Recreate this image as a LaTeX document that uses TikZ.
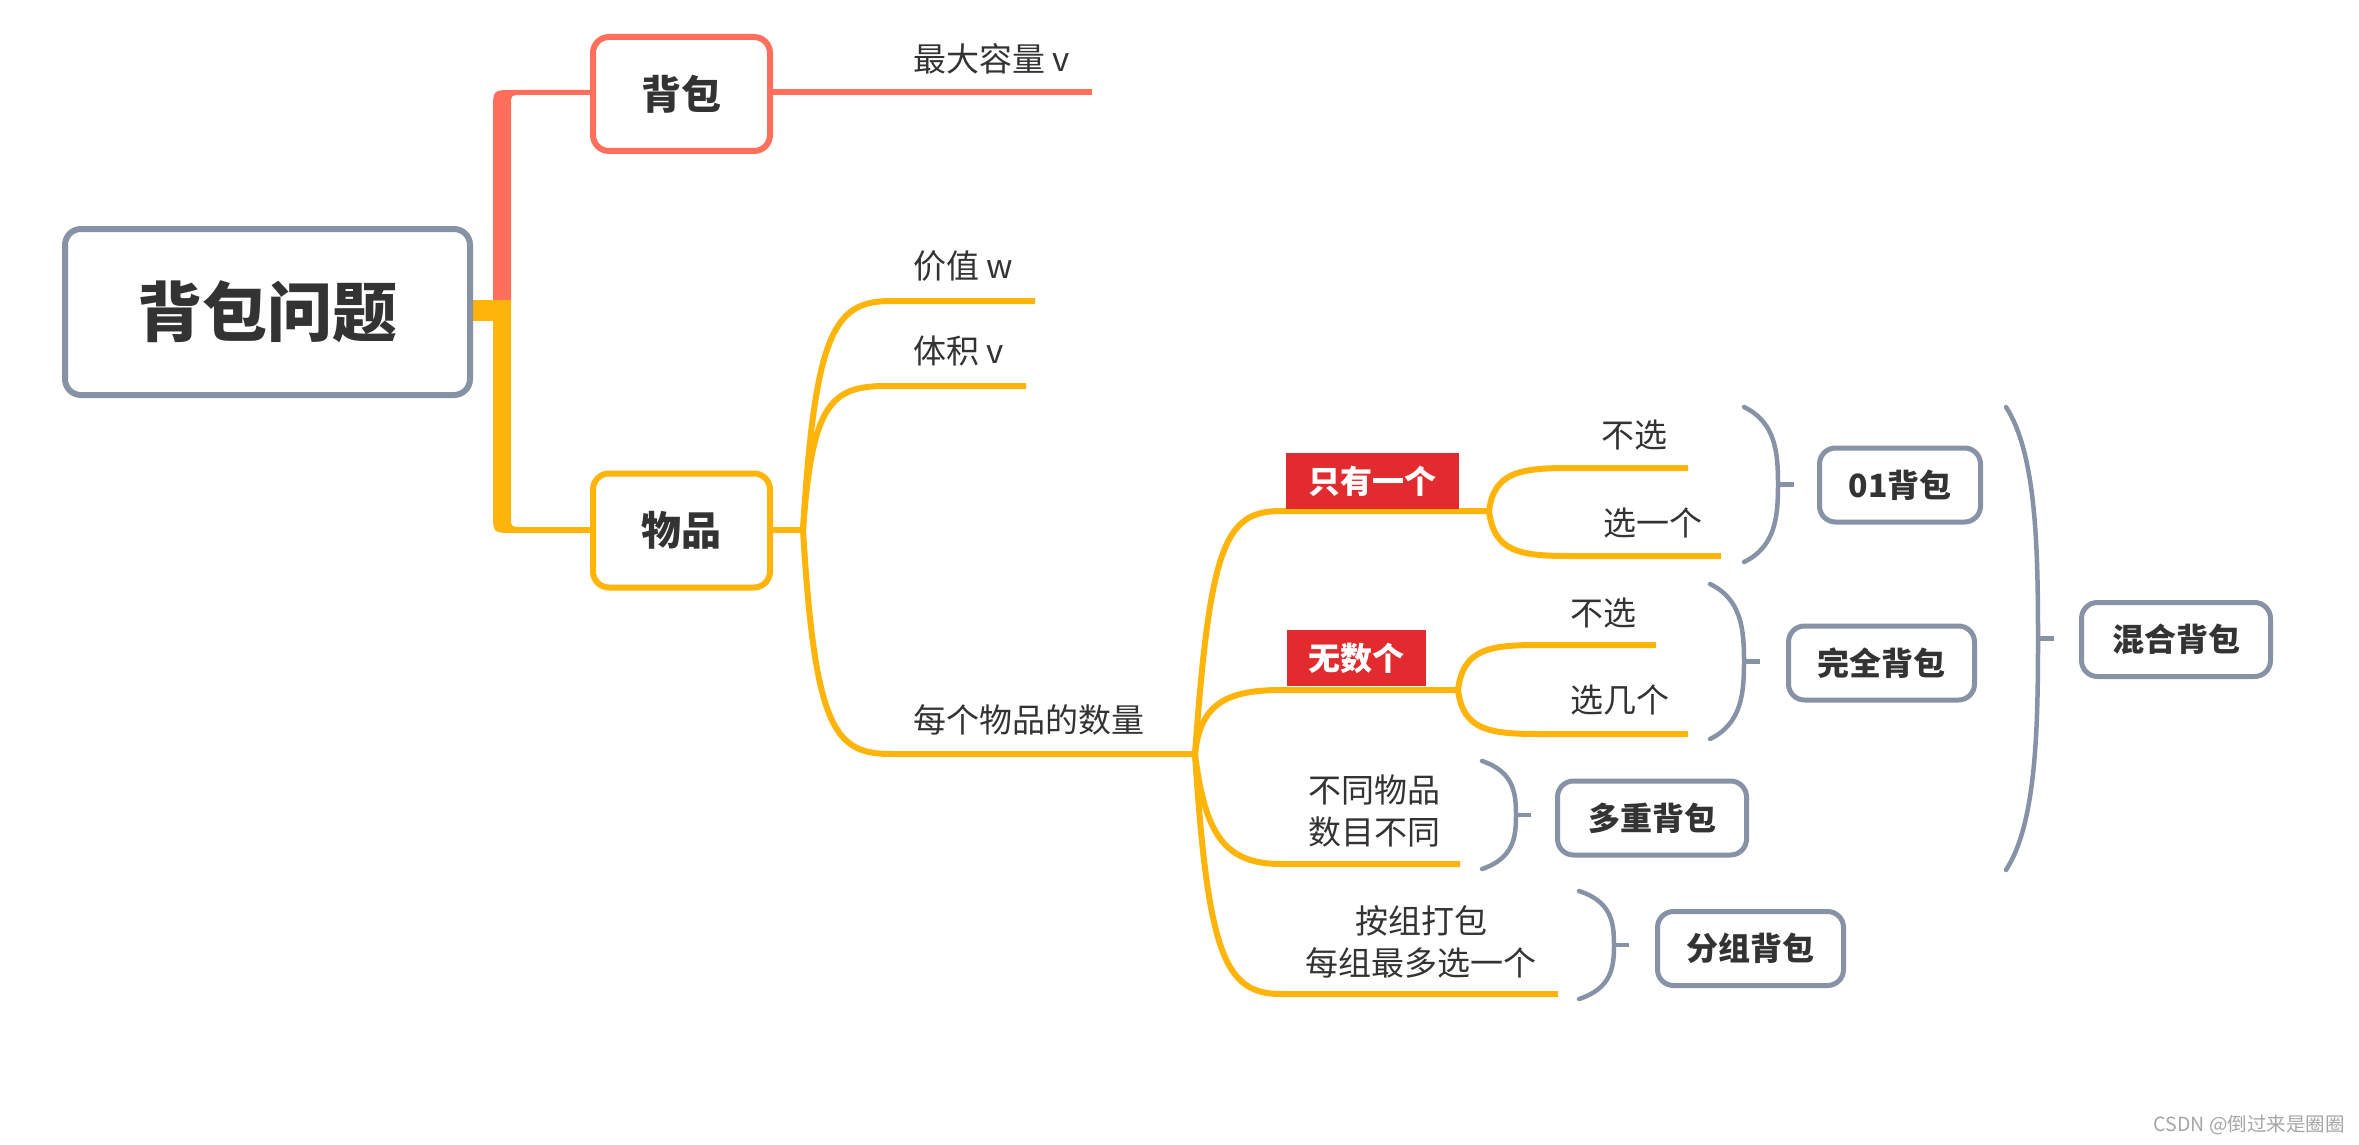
\documentclass[tikz,border=0pt]{standalone}
\usepackage{fontspec}
\setmainfont{Noto Sans CJK SC}
\definecolor{coral}{HTML}{FF6F5B}
\definecolor{gold}{HTML}{FFB40A}
\definecolor{slate}{HTML}{8792A6}
\definecolor{lblred}{HTML}{E22B2F}
\definecolor{txt}{HTML}{333333}
\newcommand{\mmbrace}[4]{%
  \draw[brc] (#1,#3) .. controls ({#2-2},{#3+0.1*(#4-#3)}) and (#2,{#3+0.3*(#4-#3)}) .. (#2,{(#3+#4)/2})
    .. controls (#2,{#4-0.3*(#4-#3)}) and ({#2-2},{#4-0.1*(#4-#3)}) .. (#1,#4);}
\begin{document}
\begin{tikzpicture}[x=1pt,y=-1pt,
  every node/.style={inner sep=0pt,text=txt},
  lbl/.style={font=\fontsize{33}{42}\selectfont},
  yl/.style={draw=gold,line width=6pt},
  brc/.style={draw=slate,line width=4.5pt,line cap=round},
  tick/.style={draw=slate,line width=4.5pt},
  gbox/.style={draw=slate,line width=5pt,rounded corners=16pt,fill=white,minimum height=74pt,font=\fontsize{32}{40}\selectfont\bfseries},
  redlbl/.style={fill=lblred,text=white,minimum height=56pt,font=\fontsize{32}{40}\selectfont\bfseries},
  mainbox/.style={line width=6pt,rounded corners=16pt,fill=white,minimum width=177pt,minimum height=114pt,font=\fontsize{40}{48}\selectfont\bfseries}
]
\useasboundingbox (0,0) rectangle (2359,1145);
\fill[white] (0,0) rectangle (2359,1145);

% trunk
\fill[gold] (472,300) rectangle (494,321);
\fill[coral] (493,302) -- (493,110) .. controls (493,90) .. (513,90) -- (592,90) -- (592,95) -- (521,95) .. controls (511,95) .. (511,105) -- (511,302) -- cycle;
\fill[gold] (493,300) -- (493,513) .. controls (493,533) .. (513,533) -- (592,533) -- (592,527) -- (521,527) .. controls (511,527) .. (511,517) -- (511,300) -- cycle;

% nodes: main
\node[mainbox,draw=slate,minimum width=405pt,minimum height=166pt,font=\fontsize{65}{72}\selectfont\bfseries] (root) at (267.5,312) {背包问题};
\node[mainbox,draw=coral] (bag) at (681.5,94) {背包};
\node[mainbox,draw=gold] (item) at (681.5,530.5) {物品};

% bag branch
\coordinate (capEnd) at (1092,92);
\draw[draw=coral,line width=6pt] (bag.east |- capEnd) -- (capEnd);
\node[lbl,anchor=west] (cap) at (913,59) {最大容量 v};

% item branches
\coordinate (j1) at (803,530);
\draw[yl] (item.east |- j1) -- (j1);
\coordinate (wEnd) at (1035,301);
\coordinate (vEnd) at (1026,386);
\coordinate (j2) at (1195,754);
\draw[yl] (j1) .. controls (815,330) and (835,301) .. (891,301) -- (wEnd);
\draw[yl] (j1) .. controls (812,405) and (830,386) .. (886,386) -- (vEnd);
\draw[yl] (j1) .. controls (815,730) and (835,754) .. (891,754) -- (j2);
\node[lbl,anchor=west] (val) at (913,266) {价值 w};
\node[lbl,anchor=west] (vol) at (913,351) {体积 v};
\node[lbl,anchor=west] (cnt) at (913,720) {每个物品的数量};

% level 2
\coordinate (j3) at (1489,511);
\coordinate (j4) at (1458,690);
\coordinate (e5) at (1460,864);
\coordinate (e6) at (1558,994);
\draw[yl] (j2) .. controls (1210,545) and (1225,511) .. (1281,511) -- (j3);
\draw[yl] (j2) .. controls (1200,705) and (1225,690) .. (1281,690) -- (j4);
\draw[yl] (j2) .. controls (1205,835) and (1225,864) .. (1281,864) -- (e5);
\draw[yl] (j2) .. controls (1208,955) and (1225,994) .. (1281,994) -- (e6);

\node[redlbl,minimum width=173pt] (one) at (1372.5,481) {只有一个};
\node[redlbl,minimum width=139pt] (inf) at (1356.5,658) {无数个};

% level 3
\coordinate (e1) at (1688,468);
\coordinate (e2) at (1721,556);
\coordinate (e3) at (1656,645);
\coordinate (e4) at (1688,734);
\draw[yl] (j3) .. controls (1494,472) and (1520,468) .. (1570,468) -- (e1);
\draw[yl] (j3) .. controls (1494,552) and (1520,556) .. (1570,556) -- (e2);
\draw[yl] (j4) .. controls (1463,649) and (1489,645) .. (1539,645) -- (e3);
\draw[yl] (j4) .. controls (1463,730) and (1489,734) .. (1539,734) -- (e4);

\node[lbl,anchor=west] (n1) at (1601,435) {不选};
\node[lbl,anchor=west] (n2) at (1603,523) {选一个};
\node[lbl,anchor=west] (n3) at (1570,613) {不选};
\node[lbl,anchor=west] (n4) at (1570,700) {选几个};
\node[lbl,anchor=west,align=left] (n5) at (1308,811.5) {不同物品\\数目不同};
\node[lbl,align=center] (n6) at (1421,942) {按组打包\\每组最多选一个};

% braces
\mmbrace{1744}{1778}{407}{562}
\mmbrace{1710}{1744}{584}{739}
\mmbrace{1482}{1516}{761}{869}
\mmbrace{1579}{1614}{891}{999}
\mmbrace{2006}{2038}{407}{870}
\coordinate (t1) at (1778,484.5);
\coordinate (t2) at (1744,661.5);
\coordinate (t3) at (1516,815);
\coordinate (t4) at (1614,945);
\coordinate (t5) at (2038,638.5);
\draw[tick] (t1) -- ++(16,0);
\draw[tick] (t2) -- ++(16,0);
\draw[tick] (t3) -- ++(15,0);
\draw[tick] (t4) -- ++(15,0);
\draw[tick] (t5) -- ++(16,0);

\node[gbox,minimum width=161pt] (k01) at (1900,485) {01背包};
\node[gbox,minimum width=186pt] (kfull) at (1881.5,663) {完全背包};
\node[gbox,minimum width=189pt] (kmulti) at (1652,818) {多重背包};
\node[gbox,minimum width=186pt] (kgroup) at (1750.5,948.5) {分组背包};
\node[gbox,minimum width=189pt] (kmix) at (2176,639.5) {混合背包};

% watermark
\node[anchor=east,text=black!35,font=\fontsize{19.5}{22}\selectfont] (wm) at (2345,1125) {CSDN @倒过来是圈圈};
\end{tikzpicture}
\end{document}
